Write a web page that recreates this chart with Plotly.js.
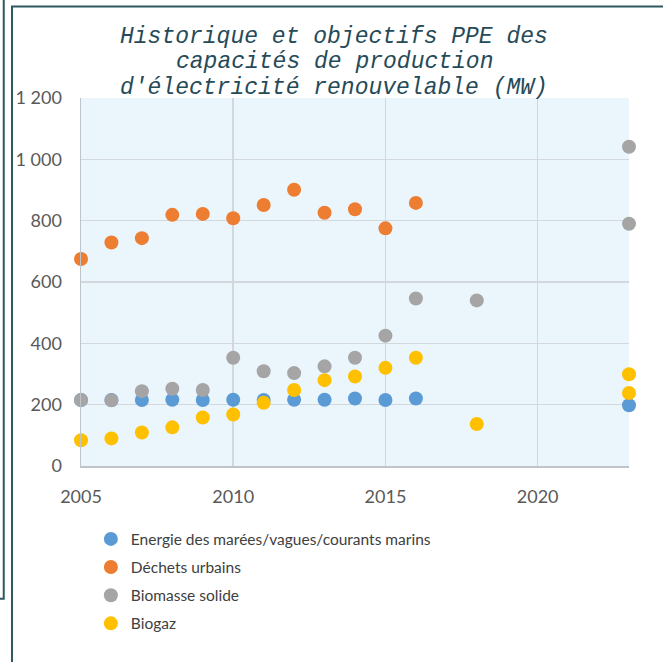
<!DOCTYPE html>
<html>
<head>
<meta charset="utf-8">
<script src="https://cdn.plot.ly/plotly-3.0.1.min.js"></script>
<style>
html,body{margin:0;padding:0;background:#ffffff;}
#chart{width:663px;height:662px;}
</style>
</head>
<body>
<div id="chart"></div>
<script>
// Data (MW)
const titleLines = ["Historique et objectifs PPE des", "capacités de production", "d'électricité renouvelable (MW)"];
const seriesNames = ["Energie des marées/vagues/courants marins", "Déchets urbains", "Biomasse solide", "Biogaz"];

const yearsMarees = [2005, 2006, 2007, 2008, 2009, 2010, 2011, 2012, 2013, 2014, 2015, 2016, 2023];
const valuesMarees = [215, 215, 215, 216, 215, 216, 215, 216, 216, 220, 215, 220, 198];

const yearsDechets = [2005, 2006, 2007, 2008, 2009, 2010, 2011, 2012, 2013, 2014, 2015, 2016];
const valuesDechets = [675, 729, 743, 819, 822, 808, 851, 901, 826, 837, 775, 858];

const yearsBiomasse = [2005, 2006, 2007, 2008, 2009, 2010, 2011, 2012, 2013, 2014, 2015, 2016, 2018, 2023, 2023];
const valuesBiomasse = [215, 214, 244, 252, 248, 353, 309, 303, 325, 353, 425, 546, 540, 1041, 790];

const yearsBiogaz = [2005, 2006, 2007, 2008, 2009, 2010, 2011, 2012, 2013, 2014, 2015, 2016, 2018, 2023, 2023];
const valuesBiogaz = [84, 90, 109, 126, 158, 168, 206, 248, 280, 292, 320, 353, 137, 299, 238];

const colors = ["#5B9BD5", "#ED7D31", "#A5A5A5", "#FFC000"];
const xs = [yearsMarees, yearsDechets, yearsBiomasse, yearsBiogaz];
const ys = [valuesMarees, valuesDechets, valuesBiomasse, valuesBiogaz];

const traces = seriesNames.map((name, i) => ({
  type: "scatter",
  mode: "markers",
  name: name,
  legendgroup: "g" + i,
  x: xs[i],
  y: ys[i],
  cliponaxis: false,
  marker: {color: colors[i], size: 14, line: {width: 0}}
}));

const frameColor = "#2E5961";
const titleFont = {family: "Liberation Mono, Courier New, monospace", size: 23, color: "#264A58", style: "italic"};
// title lines centred at picture y = 37, 62.5, 88 (plot top = 98, height 368)
const titleY = [37, 62.5, 88].map(py => (466 - py) / 368);

const layout = {
  width: 663,
  height: 662,
  margin: {l: 81, r: 34, t: 98, b: 196},
  paper_bgcolor: "#FFFFFF",
  plot_bgcolor: "#EAF5FC",
  separators: ", ",
  showlegend: true,
  annotations: titleLines.map((t, i) => ({
    text: t, xref: "paper", yref: "paper", x: 0.462, y: titleY[i],
    xanchor: "center", yanchor: "middle", showarrow: false, font: titleFont
  })),
  xaxis: {
    range: [2005, 2023],
    tick0: 2005, dtick: 5,
    showgrid: true, gridcolor: "#D3D8DC", gridwidth: 1.5,
    showline: true, linecolor: "#BFC4C8", linewidth: 1.5,
    zeroline: false, ticks: "",
    ticklabelstandoff: 14,
    tickfont: {family: "Lato, Open Sans, sans-serif", size: 18, color: "#595959"}
  },
  yaxis: {
    range: [0, 1200],
    tick0: 0, dtick: 200,
    tickformat: ",d",
    showgrid: true, gridcolor: "#D3D8DC", gridwidth: 1.5,
    showline: true, linecolor: "#BFC4C8", linewidth: 1.5,
    zeroline: false, ticks: "",
    ticklabelstandoff: 14,
    tickfont: {family: "Lato, Open Sans, sans-serif", size: 18, color: "#595959"}
  },
  legend: {
    orientation: "v",
    x: 0.018, xanchor: "left",
    y: -0.153, yanchor: "top",
    bgcolor: "rgba(0,0,0,0)",
    tracegroupgap: 5,
    font: {family: "Lato, Open Sans, sans-serif", size: 15.5, color: "#404040"}
  },
  shapes: [
    // outer frame of the chart panel
    {type: "rect", xref: "paper", yref: "paper", x0: -0.1259, x1: 1.10, y0: -0.56, y1: 1.2486,
     line: {color: frameColor, width: 2}, fillcolor: "rgba(0,0,0,0)", layer: "above"},
    // neighbouring panel border on the left
    {type: "path", xref: "paper", yref: "paper",
     path: "M -0.141,1.28 L -0.141,-0.3605 L -0.16,-0.3605",
     line: {color: frameColor, width: 2}}
  ]
};

Plotly.newPlot("chart", traces, layout, {displayModeBar: false, staticPlot: true});
</script>
</body>
</html>
